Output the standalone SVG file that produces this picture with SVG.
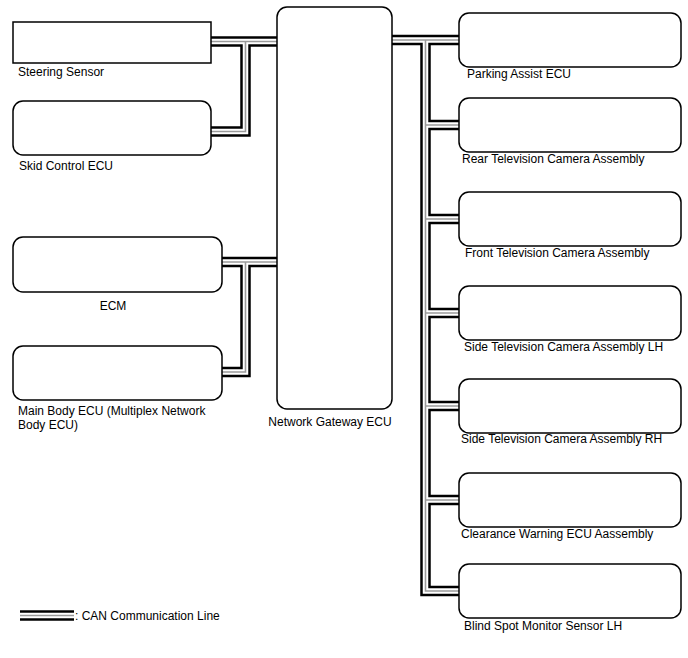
<svg xmlns="http://www.w3.org/2000/svg" xmlns:xlink="http://www.w3.org/1999/xlink" width="688" height="658" viewBox="0 0 688 658">
<style>
  .box { fill: #fff; stroke: #000; stroke-width: 1.5; }
  .lbl { font-family: "Liberation Sans", Arial, sans-serif; font-size: 12px; fill: #000; }
  .mid { text-anchor: middle; }
  .c1 { fill: none; stroke: #000; stroke-width: 10.5; stroke-linejoin: miter; }
  .c2 { fill: none; stroke: #fff; stroke-width: 5.5; stroke-linejoin: miter; }
  .c3 { fill: none; stroke: #9a9a9a; stroke-width: 1.6; stroke-linejoin: miter; }
</style>
<defs>
  <g id="can">
    <path d="M209,41.5 H279"/>
    <path d="M209,131.5 H245.5 V41.5"/>
    <path d="M220,262 H279"/>
    <path d="M220,372 H245.5 V262"/>
    <path d="M390,40 H461"/>
    <path d="M425.5,40 V591 H461"/>
    <path d="M425.5,125 H461"/>
    <path d="M425.5,219 H461"/>
    <path d="M425.5,313 H461"/>
    <path d="M425.5,406 H461"/>
    <path d="M425.5,500 H461"/>
  </g>
  <path id="legline" d="M20,615.5 H74"/>
</defs>
<g id="connectors">
  <use xlink:href="#can" href="#can" class="c1"/>
  <use xlink:href="#can" href="#can" class="c2"/>
  <use xlink:href="#can" href="#can" class="c3"/>
</g>
<g id="steering-sensor">
  <rect class="box" x="13" y="22" width="198" height="41"/>
  <text class="lbl" x="18" y="76">Steering Sensor</text>
</g>
<g id="skid-control-ecu">
  <rect class="box" x="13" y="101" width="198" height="54" rx="10"/>
  <text class="lbl" x="19" y="170">Skid Control ECU</text>
</g>
<g id="ecm">
  <rect class="box" x="13" y="237" width="209" height="55" rx="10"/>
  <text class="lbl mid" x="113" y="310">ECM</text>
</g>
<g id="main-body-ecu">
  <rect class="box" x="13" y="346" width="209" height="54" rx="10"/>
  <text class="lbl" x="18" y="415">Main Body ECU (Multiplex Network</text>
  <text class="lbl" x="18" y="429">Body ECU)</text>
</g>
<g id="network-gateway-ecu">
  <rect class="box" x="277" y="7" width="115" height="402" rx="10"/>
  <text class="lbl mid" x="330" y="426">Network Gateway ECU</text>
</g>
<g id="parking-assist-ecu">
  <rect class="box" x="459" y="13" width="222" height="54" rx="10"/>
  <text class="lbl" x="467" y="78">Parking Assist ECU</text>
</g>
<g id="rear-tv-camera">
  <rect class="box" x="459" y="98" width="222" height="54" rx="10"/>
  <text class="lbl" x="462" y="163">Rear Television Camera Assembly</text>
</g>
<g id="front-tv-camera">
  <rect class="box" x="459" y="192" width="222" height="54" rx="10"/>
  <text class="lbl" x="465" y="257">Front Television Camera Assembly</text>
</g>
<g id="side-tv-camera-lh">
  <rect class="box" x="459" y="286" width="222" height="54" rx="10"/>
  <text class="lbl" x="464" y="351">Side Television Camera Assembly LH</text>
</g>
<g id="side-tv-camera-rh">
  <rect class="box" x="459" y="379" width="222" height="54" rx="10"/>
  <text class="lbl" x="461" y="443">Side Television Camera Assembly RH</text>
</g>
<g id="clearance-warning-ecu">
  <rect class="box" x="459" y="473" width="222" height="54" rx="10"/>
  <text class="lbl" x="461" y="538">Clearance Warning ECU Aassembly</text>
</g>
<g id="blind-spot-monitor-lh">
  <rect class="box" x="459" y="564" width="222" height="54" rx="10"/>
  <text class="lbl" x="464" y="630">Blind Spot Monitor Sensor LH</text>
</g>
<g id="legend">
  <use xlink:href="#legline" href="#legline" class="c1"/>
  <use xlink:href="#legline" href="#legline" class="c2"/>
  <use xlink:href="#legline" href="#legline" class="c3"/>
  <text class="lbl" x="75" y="620">: CAN Communication Line</text>
</g>
</svg>
